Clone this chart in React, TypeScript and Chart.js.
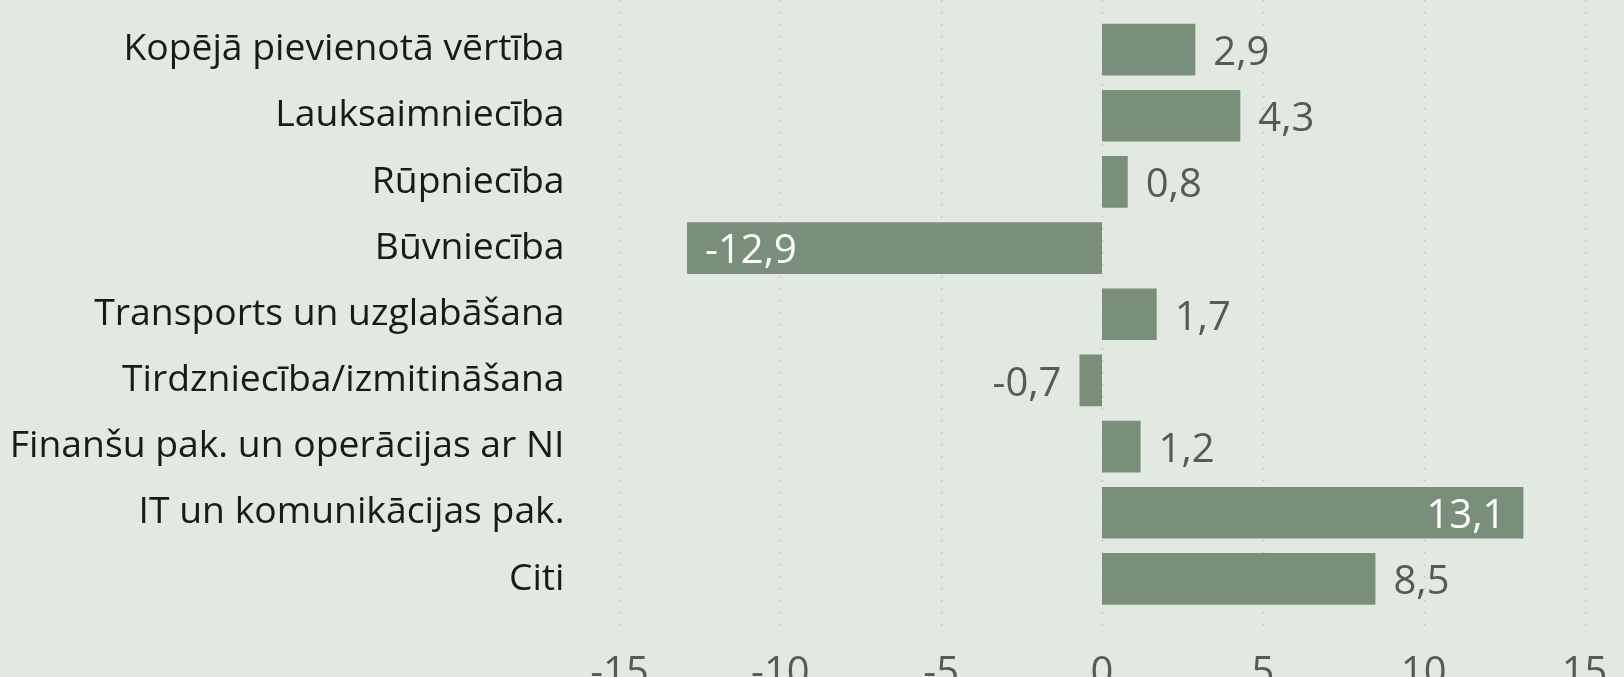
import React, { useEffect, useRef } from "react";
import { Chart, registerables } from "chart.js";

Chart.register(...registerables);

const categories = [
  "Kopējā pievienotā vērtība",
  "Lauksaimniecība",
  "Rūpniecība",
  "Būvniecība",
  "Transports un uzglabāšana",
  "Tirdzniecība/izmitināšana",
  "Finanšu pak. un operācijas ar NI",
  "IT un komunikācijas pak.",
  "Citi",
];
const values = [2.9, 4.3, 0.8, -12.9, 1.7, -0.7, 1.2, 13.1, 8.5];
const xTickValues = [-15, -10, -5, 0, 5, 10, 15];

const W = 1624;
const H = 677;
const BG = "#E1E9E1";
const BAR = "#7A8F7A";
const FONT = '"Open Sans", sans-serif';
const LABEL_GRAY = "#595959";

const fmt = (v: number) => v.toFixed(1).replace(".", ",");

const gridPlugin = {
  id: "dottedGrid",
  beforeDatasetsDraw(chart: any) {
    const { ctx, chartArea } = chart;
    const xs = chart.scales.x;
    ctx.save();
    ctx.strokeStyle = "#BFC4BF";
    ctx.lineWidth = 1.6;
    ctx.setLineDash([1.6, 10.4]);
    xTickValues.forEach((v) => {
      const px = Math.round(xs.getPixelForValue(v)) + 0.5;
      ctx.beginPath();
      ctx.moveTo(px, 0);
      ctx.lineTo(px, chartArea.bottom + 22);
      ctx.stroke();
    });
    ctx.restore();
  },
};

const labelPlugin = {
  id: "barLabels",
  afterDatasetsDraw(chart: any) {
    const { ctx, chartArea } = chart;
    const meta = chart.getDatasetMeta(0);
    ctx.save();
    ctx.font = `40px ${FONT}`;
    ctx.textBaseline = "middle";
    meta.data.forEach((bar: any, i: number) => {
      const v = values[i];
      const text = fmt(v);
      const w = ctx.measureText(text).width;
      const y = bar.y + 4;
      const gap = 18;
      if (v >= 0) {
        if (bar.x + gap + w > chartArea.right) {
          ctx.fillStyle = "#FFFFFF";
          ctx.textAlign = "right";
          ctx.fillText(text, bar.x - gap, y);
        } else {
          ctx.fillStyle = LABEL_GRAY;
          ctx.textAlign = "left";
          ctx.fillText(text, bar.x + gap, y);
        }
      } else {
        if (bar.x - gap - w < chartArea.left) {
          ctx.fillStyle = "#FFFFFF";
          ctx.textAlign = "left";
          ctx.fillText(text, bar.x + gap, y);
        } else {
          ctx.fillStyle = LABEL_GRAY;
          ctx.textAlign = "right";
          ctx.fillText(text, bar.x - gap, y);
        }
      }
    });
    ctx.restore();
  },
};

export default function App() {
  const canvasRef = useRef<HTMLCanvasElement | null>(null);

  useEffect(() => {
    document.body.style.margin = "0";
    document.body.style.background = BG;
    const canvas = canvasRef.current;
    if (!canvas) return;
    const chart = new Chart(canvas, {
      type: "bar",
      data: {
        labels: categories,
        datasets: [
          {
            data: values,
            backgroundColor: BAR,
            borderWidth: 0,
            categoryPercentage: 1,
            barPercentage: 0.78,
          },
        ],
      },
      options: {
        indexAxis: "y",
        responsive: false,
        animation: false,
        devicePixelRatio: 1,
        layout: { padding: { top: 16.5, right: 39.5, left: 0, bottom: 0 } },
        plugins: {
          legend: { display: false },
          tooltip: { enabled: false },
        },
        scales: {
          x: {
            type: "linear",
            min: -15,
            max: 15,
            afterFit: (scale: any) => {
              scale.height = 65;
              scale.paddingLeft = 0;
              scale.paddingRight = 0;
            },
            afterBuildTicks: (scale: any) => {
              scale.ticks = xTickValues.map((v) => ({ value: v }));
            },
            ticks: {
              font: { family: FONT, size: 40 },
              color: LABEL_GRAY,
              padding: 38,
              maxRotation: 0,
              autoSkip: false,
              callback: (v: any) => String(v),
            },
            grid: { display: false, drawTicks: false },
            border: { display: false },
          },
          y: {
            type: "category",
            offset: true,
            afterFit: (scale: any) => {
              scale.width = 619.5;
              scale.paddingTop = 0;
              scale.paddingBottom = 0;
            },
            ticks: {
              font: { family: FONT, size: 37.3 },
              color: "#1A1A1A",
              padding: 55,
              autoSkip: false,
            },
            grid: { display: false, drawTicks: false },
            border: { display: false },
          },
        },
      },
      plugins: [gridPlugin, labelPlugin],
    });
    return () => chart.destroy();
  }, []);

  return (
    <div style={{ width: W, height: H, background: BG, overflow: "hidden" }}>
      <canvas ref={canvasRef} width={W} height={H} style={{ display: "block" }} />
    </div>
  );
}
